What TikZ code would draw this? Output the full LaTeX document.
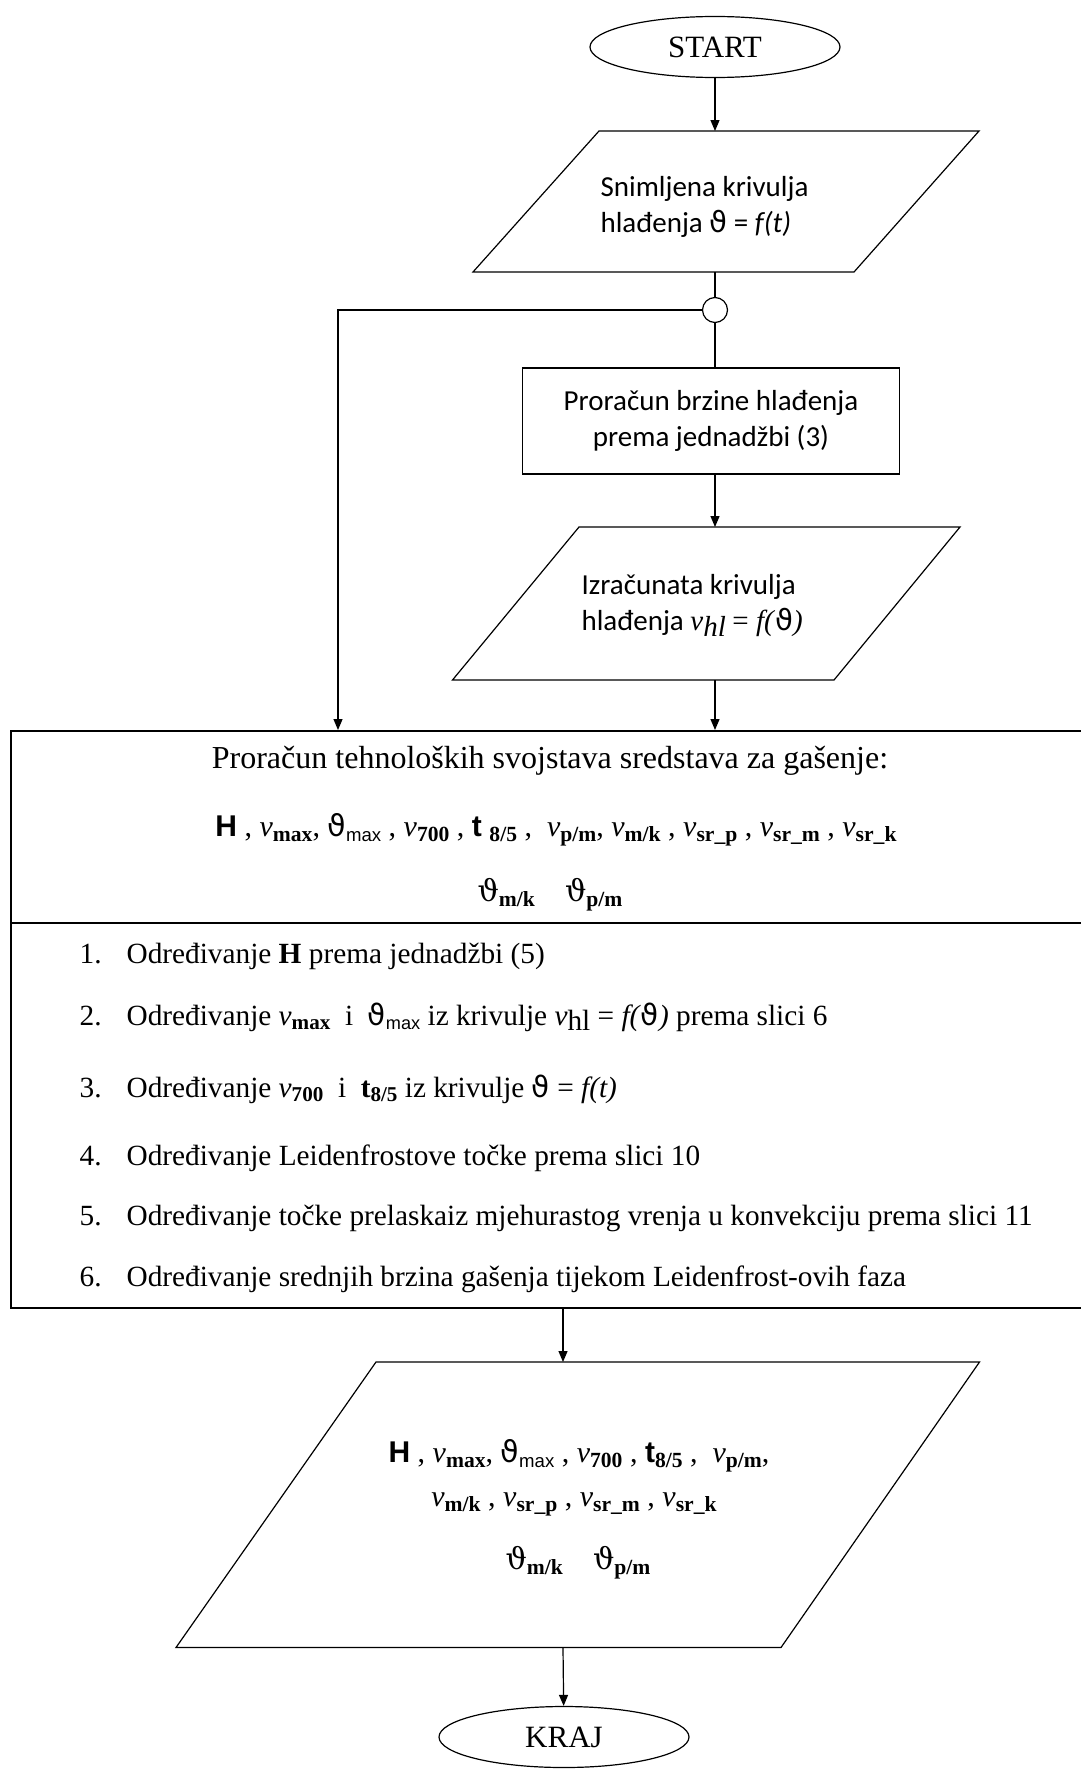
\documentclass[tikz,border=0pt]{standalone}
\usepackage{fontspec}
\setmainfont{Liberation Serif}
\newfontfamily\calfont{Carlito}
\newfontfamily\arialfont{Liberation Sans}
\newfontfamily\dvs{DejaVu Sans}
\newfontfamily\dvserif{DejaVu Serif}
\usetikzlibrary{shapes.geometric,arrows.meta}
\newcommand{\vv}[1]{\textit{v}\raisebox{-0.35ex}{\scalebox{0.72}{\bfseries #1}}}
\newcommand{\thmax}{{\dvs ϑ}\raisebox{-0.35ex}{\scalebox{0.62}{\arialfont max}}}
\newcommand{\tht}[1]{{\dvserif ϑ}\raisebox{-0.35ex}{\scalebox{0.72}{\bfseries #1}}}
\newcommand{\tef}{{\arialfont\bfseries t}\raisebox{-0.35ex}{\scalebox{0.72}{\bfseries 8/5}}}
\begin{document}
\begin{tikzpicture}[x=1pt,y=-1pt,line width=1.2pt,
  arr/.style={-{Triangle[length=11pt,width=9pt]}},
  term/.style={ellipse,draw,minimum width=250pt,minimum height=61pt,inner sep=0pt,font=\fontsize{31}{36}\selectfont},
  sanstext/.style={align=left,inner sep=0pt,font=\calfont\fontsize{29}{36}\selectfont},
  listtext/.style={anchor=base west,inner sep=0pt,font=\fontsize{29.3}{32}\selectfont},
  formtext/.style={inner sep=0pt,font=\fontsize{30}{34}\selectfont}]
\useasboundingbox (0,0) rectangle (1081,1769);
\fill[white] (0,0) rectangle (1081,1769);

% START
\node[term] (start) at (715,47) {START};
% parallelogram 1
\draw (599,131) -- (979,131) -- (854,272) -- (473,272) -- cycle;
\coordinate (p1t) at (715,131);
\coordinate (p1b) at (715,272);
\node[sanstext,anchor=west] (p1txt) at (600,207) {Snimljena krivulja\\hlađenja {\dvs ϑ} = \textit{f(t)}};
\draw[arr] (start) -- (p1t);
% junction
\node[circle,draw,minimum size=25pt,inner sep=0pt] (junc) at (715,310) {};
\draw (p1b) -- (junc);
% rect
\node[draw,minimum width=377pt,minimum height=106pt,align=center,font=\calfont\fontsize{29}{36}\selectfont] (calc) at (711,421) {Proračun brzine hlađenja\\prema jednadžbi (3)};
\draw (junc) -- (junc |- calc.north);
% parallelogram 2
\draw (579,527) -- (960,527) -- (834,680) -- (452.5,680) -- cycle;
\coordinate (p2t) at (715,527);
\coordinate (p2b) at (715,680);
\node[sanstext,anchor=west] (p2txt) at (581,606) {Izračunata krivulja\\hlađenja \textit{{\rmfamily v}\raisebox{-0.4ex}{\rmfamily hl}} {\rmfamily = \textit{f(}{\dvs ϑ}\textit{)}}};
\draw[arr] (calc.south -| p2t) -- (p2t);
% big box
\node[draw,line width=1.6pt,minimum width=1080pt,minimum height=577pt,anchor=north west,inner sep=0pt] (big) at (10,730) {};
\draw[line width=1.6pt] (10,923) -- (1090,923);
\coordinate (bigT) at (715,730);
\coordinate (bigL) at (338,730);
\coordinate (bigB) at (563,1307);
\draw[arr] (p2b) -- (bigT);
\coordinate (lft) at (338,310);
\draw[arr] (junc.west) -- (lft) -- (bigL);
% top section text
\node[inner sep=0pt,font=\fontsize{32}{36}\selectfont] (title) at (550,761) {Proračun tehnoloških svojstava sredstava za gašenje:};
\node[formtext] (form1) at (556,830) {{\arialfont\bfseries H} , \vv{max}, \thmax{} , \vv{700} , {\arialfont\bfseries t} \raisebox{-0.35ex}{\scalebox{0.72}{\bfseries 8/5}} , \ \vv{p/m}, \vv{m/k} , \vv{sr\_p} , \vv{sr\_m} , \vv{sr\_k}};
\node[formtext] (form2) at (550,895) {\tht{m/k}\quad \tht{p/m}};
% list
\node[listtext] (n1) at (79,963) {1.};
\node[listtext] (t1) at (126,963) {Određivanje \textbf{H} prema jednadžbi (5)};
\node[listtext] (n2) at (79,1025) {2.};
\node[listtext] (t2) at (126,1025) {Određivanje \vv{max}\ \ i\ \ \thmax\ iz krivulje \textit{v}\raisebox{-0.4ex}{hl} = \textit{f(}{\dvs ϑ}\textit{)} prema slici 6};
\node[listtext] (n3) at (79,1097) {3.};
\node[listtext] (t3) at (126,1097) {Određivanje \vv{700}\ \ i\ \ \textbf{t}\raisebox{-0.35ex}{\scalebox{0.72}{\bfseries 8/5}}\ iz krivulje {\dvs ϑ} = \textit{f(t)}};
\node[listtext] (n4) at (79,1165) {4.};
\node[listtext] (t4) at (126,1165) {Određivanje Leidenfrostove točke prema slici 10};
\node[listtext] (n5) at (79,1225) {5.};
\node[listtext] (t5) at (126,1225) {Određivanje točke prelaskaiz mjehurastog vrenja u konvekciju prema slici 11};
\node[listtext] (n6) at (79,1286) {6.};
\node[listtext] (t6) at (126,1286) {Određivanje srednjih brzina gašenja tijekom Leidenfrost-ovih faza};
% parallelogram 3
\draw (376,1362) -- (979.5,1362) -- (781,1647.5) -- (176,1647.5) -- cycle;
\coordinate (p3t) at (563,1362);
\coordinate (p3b) at (563,1647.5);
\draw[arr] (bigB) -- (p3t);
\node[formtext] (o1) at (579,1456) {{\arialfont\bfseries H} , \vv{max}, \thmax{} , \vv{700} , \tef{} , \ \vv{p/m},};
\node[formtext] (o2) at (574,1504) {\vv{m/k} , \vv{sr\_p} , \vv{sr\_m} , \vv{sr\_k}};
\node[formtext] (o3) at (578,1563) {\tht{m/k}\quad \tht{p/m}};
% KRAJ
\node[term] (kraj) at (564,1737) {KRAJ};
\draw[arr] (p3b) -- (kraj);
\end{tikzpicture}
\end{document}
